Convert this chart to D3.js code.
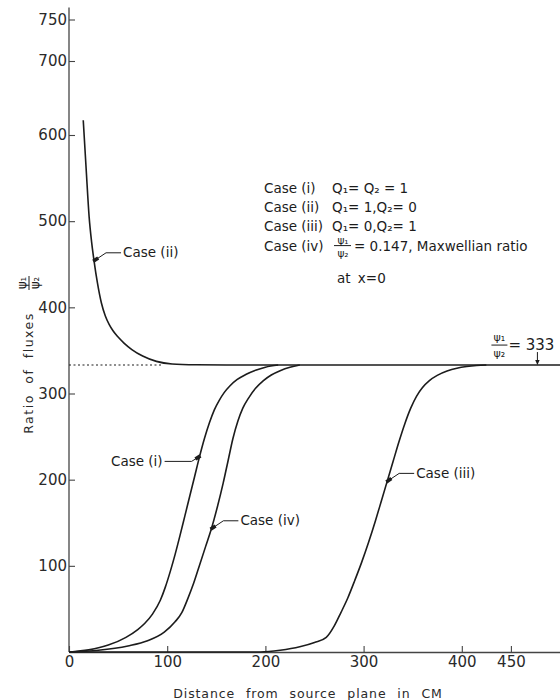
<!DOCTYPE html>
<html>
<head>
<meta charset="utf-8">
<script src="https://cdn.jsdelivr.net/npm/d3@7"></script>
<style>
  html, body { margin: 0; padding: 0; background: #fff; }
  svg { display: block; font-family: "DejaVu Sans", sans-serif; }
</style>
</head>
<body>
<div id="chart"></div>
<script>
// values (x in cm, y = psi1/psi2)
const xTicks = [0, 100, 200, 300, 400, 450];
const yTicks = [100, 200, 300, 400, 500, 600, 700, 750];
const equilibrium = 333;

const caseOne = [[0,0],[20,2.5],[40,8],[58,17],[70,26],[77,33],[85,44],[93,60],[98,75],[103,93],
  [108,113],[113,135],[118,158],[123,181],[128,204],[133,227],[138,248],[143,266],[148,281],
  [153,292],[158,301],[164,309],[171,316],[180,322],[190,327],[200,330.5],[213,333]];

const caseTwo = [[14.5,620],[17.5,560],[20.5,505],[23,476],[25.5,454],[29,428],[33,405],[37,390],
  [41,380],[45,372.5],[50,365.5],[56,358.5],[64,351],[75,343.5],[89,337.3],[105,334.3],
  [130,333.3],[160,333],[500,333]];

const caseThree = [[0,0],[195,0],[215,2],[235,6],[250,11],[262,17],[270,30],[277,46],[284,63],
  [291,83],[298,104],[305,127],[312,152],[318,175],[324,198],[330,221],[336,244],[342,265],
  [348,283],[354,297],[360,307],[367,315],[375,321],[385,326],[395,329.3],[405,331.3],
  [415,332.5],[425,333]];

const caseFour = [[0,0],[30,2],[60,7],[80,13],[97,23],[108,35],[115,46],[121,62],[127,80],
  [133,101],[139,122],[145,143],[151,168],[157,196],[162,222],[167,248],[172,268],[177,283],
  [183,295],[190,306],[198,315],[206,321.5],[215,326.5],[225,330.5],[235,333]];

const caseLabels = [
  { text: 'Case (ii)',  at: [25.5, 454], side: 'right' },
  { text: 'Case (i)',   at: [133, 227],  side: 'left'  },
  { text: 'Case (iv)',  at: [145, 143],  side: 'right' },
  { text: 'Case (iii)', at: [324, 198],  side: 'right' }
];

const legendRows = [
  ['Case (i)',   'Q\u2081= Q\u2082 = 1'],
  ['Case (ii)',  'Q\u2081= 1,Q\u2082= 0'],
  ['Case (iii)', 'Q\u2081= 0,Q\u2082= 1'],
  ['Case (iv)',  '']
];

const width = 560, height = 700;
const ink = '#1c1c1c';

const svg = d3.select('#chart')
  .append('svg')
    .attr('width', width)
    .attr('height', height);

const x = d3.scaleLinear()
  .domain([0, 500])
  .range([69, 560]);

// hand-drawn axis: top part is squeezed
const y = d3.scaleLinear()
  .domain([0, 600, 700, 750])
  .range([652, 135, 61, 19.5]);

// axes
const yAxis = svg.append('g')
  .attr('transform', `translate(${x(0)},0)`)
  .call(d3.axisLeft(y).tickValues(yTicks).tickSizeInner(-6).tickSizeOuter(0).tickPadding(2));
yAxis.select('.domain').remove();
yAxis.append('line')
  .attr('y1', y(0)).attr('y2', y(750) - 12)
  .attr('stroke', '#444').attr('stroke-width', 1.3);

const xAxis = svg.append('g')
  .attr('transform', `translate(0,${y(0)})`)
  .call(d3.axisBottom(x).tickValues(xTicks).tickSizeInner(-6).tickSizeOuter(0).tickPadding(4));

svg.selectAll('.tick line').attr('stroke', '#444').attr('stroke-width', 1.1);
xAxis.select('.domain').attr('stroke', '#444').attr('stroke-width', 1.3);
svg.selectAll('.tick text')
  .attr('fill', '#2a2a2a')
  .style('font-size', '15px')
  .style('font-family', '"DejaVu Sans", sans-serif');

// axis titles
svg.append('text')
  .attr('x', 308).attr('y', 698)
  .attr('text-anchor', 'middle')
  .attr('fill', '#2a2a2a')
  .style('font-size', '12.5px')
  .style('letter-spacing', '0.9px')
  .style('word-spacing', '6px')
  .text('Distance from source plane in CM');

svg.append('text')
  .attr('transform', 'translate(33,373) rotate(-90)')
  .attr('text-anchor', 'middle')
  .attr('fill', '#2a2a2a')
  .style('font-size', '12.5px')
  .style('letter-spacing', '1.5px')
  .style('word-spacing', '5px')
  .text('Ratio of fluxes');

const yFrac = svg.append('g').attr('transform', 'translate(29,283) rotate(-90)');
yFrac.append('text').attr('y', -3).attr('text-anchor', 'middle')
  .style('font-size', '11.5px').attr('fill', ink).text('\u03C8\u2081');
yFrac.append('line').attr('x1', -7).attr('x2', 7)
  .attr('stroke', ink).attr('stroke-width', 1);
yFrac.append('text').attr('y', 10).attr('text-anchor', 'middle')
  .style('font-size', '11.5px').attr('fill', ink).text('\u03C8\u2082');

// curves
const line = d3.line()
  .x(d => x(d[0]))
  .y(d => y(d[1]))
  .curve(d3.curveMonotoneX);

svg.append('line')
  .attr('x1', x(0)).attr('x2', x(95))
  .attr('y1', y(equilibrium)).attr('y2', y(equilibrium))
  .attr('stroke', ink).attr('stroke-width', 1.1)
  .attr('stroke-dasharray', '2,2.5');

[caseTwo, caseOne, caseFour, caseThree].forEach(series => {
  svg.append('path')
    .datum(series)
    .attr('d', line)
    .attr('fill', 'none')
    .attr('stroke', ink)
    .attr('stroke-width', 1.6);
});

// leader labels on curves
caseLabels.forEach(lab => {
  const px = x(lab.at[0]), py = y(lab.at[1]);
  const right = lab.side === 'right';
  const knee = right ? [px + 12, py - 8] : [px - 8, py + 5];
  const end = right ? [px + 27, py - 8] : [px - 35, py + 5];
  const g = svg.append('g');

  g.append('path')
    .attr('d', `M${px},${py}L${knee[0]},${knee[1]}L${end[0]},${end[1]}`)
    .attr('fill', 'none')
    .attr('stroke', ink)
    .attr('stroke-width', 1);

  const ang = Math.atan2(knee[1] - py, knee[0] - px) * 180 / Math.PI;
  g.append('rect')
    .attr('x', -1).attr('y', -1.8)
    .attr('width', 6).attr('height', 3.6)
    .attr('transform', `translate(${px},${py}) rotate(${ang})`)
    .attr('fill', ink);

  g.append('text')
    .attr('x', right ? end[0] + 2 : end[0] - 2)
    .attr('y', end[1] + 4.5)
    .attr('text-anchor', right ? 'start' : 'end')
    .attr('fill', ink)
    .style('font-size', '13.5px')
    .text(lab.text);
});

// legend block
const legend = svg.append('g')
  .attr('transform', 'translate(264,193)')
  .attr('fill', ink)
  .style('font-size', '13.5px');

legendRows.forEach((row, i) => {
  legend.append('text').attr('x', 0).attr('y', i * 19.2).text(row[0]);
  legend.append('text').attr('x', 68).attr('y', i * 19.2).text(row[1]);
});

const lf = legend.append('g').attr('transform', `translate(79,${3 * 19.2})`);
lf.append('text').attr('y', -7).attr('text-anchor', 'middle')
  .style('font-size', '10.5px').text('\u03C8\u2081');
lf.append('line').attr('x1', -9).attr('x2', 8).attr('y1', -5).attr('y2', -5)
  .attr('stroke', ink).attr('stroke-width', 1);
lf.append('text').attr('y', 6).attr('text-anchor', 'middle')
  .style('font-size', '10.5px').text('\u03C8\u2082');
legend.append('text').attr('x', 90).attr('y', 3 * 19.2)
  .text('= 0.147,  Maxwellian ratio');
legend.append('text').attr('x', 73).attr('y', 90)
  .style('word-spacing', '3px')
  .text('at x=0');

// equilibrium value label with arrow
const eq = svg.append('g')
  .attr('transform', `translate(${x(477)},${y(equilibrium)})`)
  .attr('fill', ink);

eq.append('text').attr('x', -38).attr('y', -24).attr('text-anchor', 'middle')
  .style('font-size', '11px').text('\u03C8\u2081');
eq.append('line').attr('x1', -46).attr('x2', -30).attr('y1', -20).attr('y2', -20)
  .attr('stroke', ink).attr('stroke-width', 1);
eq.append('text').attr('x', -38).attr('y', -8).attr('text-anchor', 'middle')
  .style('font-size', '11px').text('\u03C8\u2082');
eq.append('text').attr('x', -29).attr('y', -15)
  .style('font-size', '15px').text('= 333');
eq.append('line').attr('x1', 0).attr('x2', 0).attr('y1', -13).attr('y2', -4)
  .attr('stroke', ink).attr('stroke-width', 1);
eq.append('path').attr('d', 'M-2.2,-5L2.2,-5L0,0Z');
</script>
</body>
</html>
